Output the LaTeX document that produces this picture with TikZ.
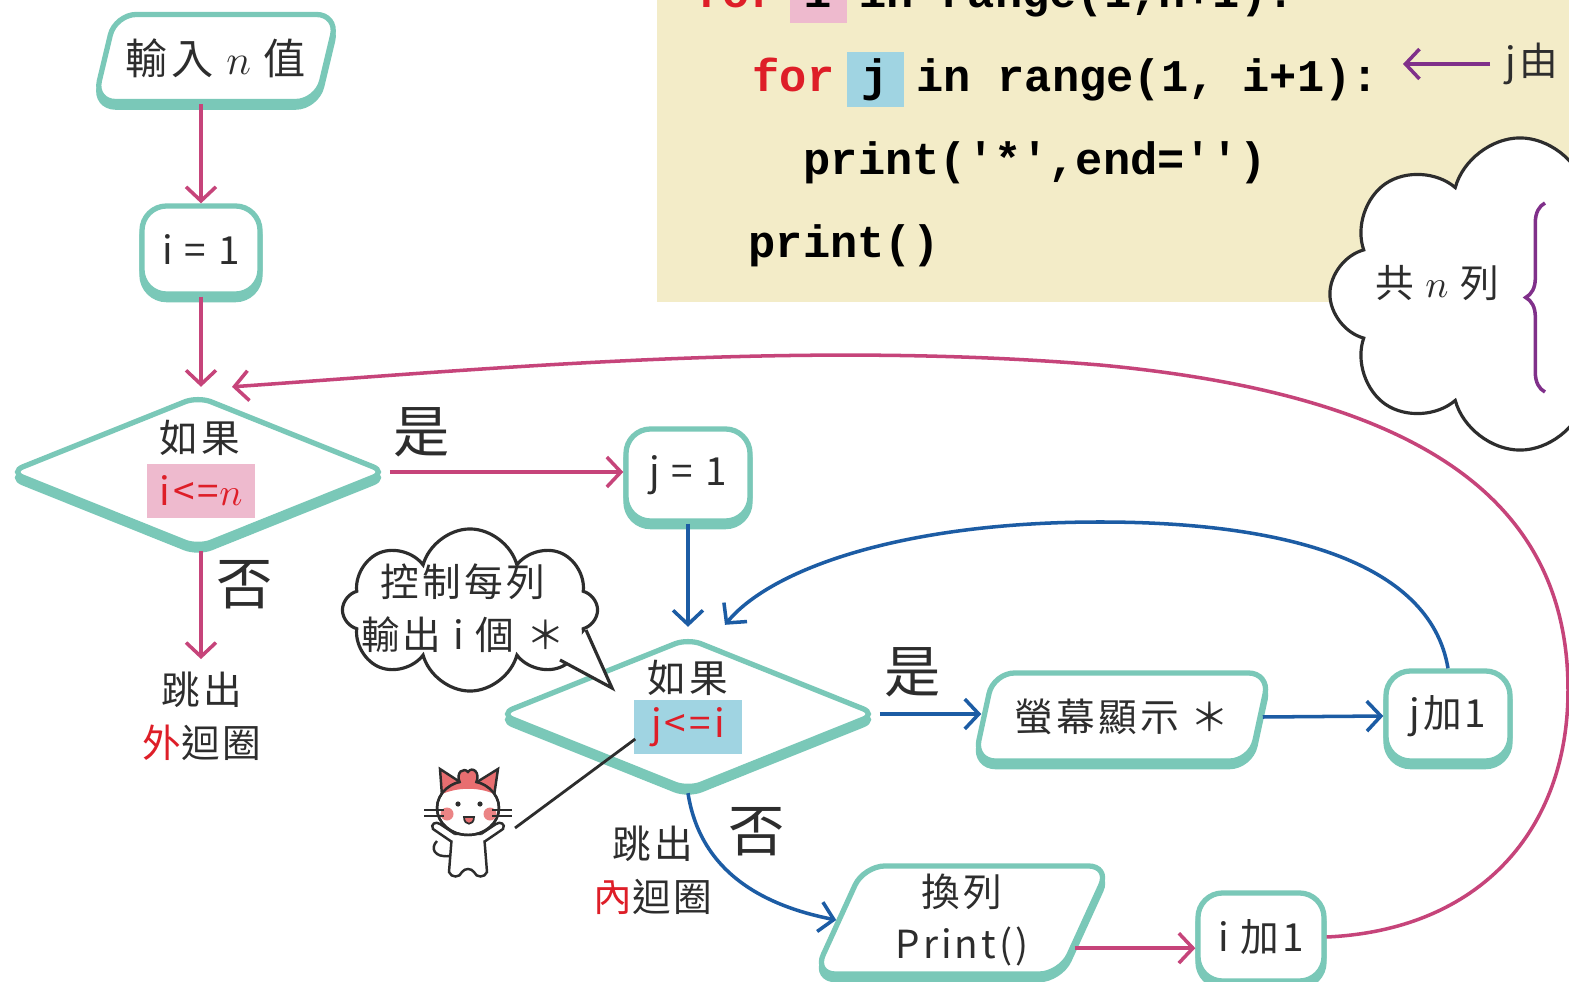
\documentclass[tikz,border=0pt]{standalone}
\usepackage{fontspec}
\setmainfont[LetterSpace=8]{Noto Sans CJK TC}
\newfontfamily\codefont{Liberation Mono}
\usetikzlibrary{arrows.meta, shapes.geometric, shapes.symbols, shadows, calc, decorations.pathreplacing}

\definecolor{flowteal}{RGB}{122,200,184}
\definecolor{loopink}{RGB}{198,68,122}
\definecolor{loopblue}{RGB}{28,92,164}
\definecolor{hlpink}{RGB}{238,186,206}
\definecolor{hlblue}{RGB}{160,212,226}
\definecolor{codebg}{RGB}{243,236,200}
\definecolor{kwred}{RGB}{222,30,40}
\definecolor{notepurple}{RGB}{128,48,138}
\definecolor{inkgray}{RGB}{45,45,45}
\definecolor{catpink}{RGB}{232,110,112}

% highlighted single character in the code lines
\newcommand\codehl[2]{{\setlength\fboxsep{0pt}\makebox[0.6em]{\colorbox{#1}{\rule[-0.33em]{0pt}{1.21em}\hspace{0.33em}#2\hspace{0.33em}}}}}
\newcommand\kw[1]{\textcolor{kwred}{#1}}
\newcommand\sq{\textquotesingle}

\tikzset{
  flowshadow/.style={copy shadow={shadow xshift=0pt, shadow yshift=-1.6pt, draw=flowteal, fill=flowteal}},
  txt/.style={inner sep=0pt, text=inkgray, font=\fontsize{11}{15}\selectfont, align=center},
  yesno/.style={inner sep=0pt, text=inkgray, font=\fontsize{16}{18}\selectfont},
  flowbox/.style={txt, rectangle, rounded corners=7pt, draw=flowteal, fill=white, line width=1.5pt, flowshadow},
  iobox/.style={txt, trapezium, trapezium left angle=62, trapezium right angle=118, trapezium stretches body,
    rounded corners=6pt, draw=flowteal, fill=white, line width=1.5pt, flowshadow},
  cond/.style={diamond, aspect=2.4, inner sep=0pt, rounded corners=4pt, draw=flowteal, fill=white,
    line width=1.5pt, minimum width=3.78cm, minimum height=1.53cm, flowshadow},
  hlnode/.style={txt, text=kwred, minimum width=1.08cm, minimum height=0.53cm},
  codeline/.style={anchor=base west, inner sep=0pt, font=\codefont\bfseries\fontsize{12.9}{14}\selectfont},
  pinkflow/.style={draw=loopink, line width=1pt, -{Straight Barb[length=4pt, width=8.5pt, line width=1pt]}},
  blueflow/.style={draw=loopblue, line width=1pt, -{Straight Barb[length=4pt, width=8.5pt, line width=1pt]}},
  notearrow/.style={draw=notepurple, line width=1pt, -{Straight Barb[length=4pt, width=8.5pt, line width=1pt]}},
  talk/.style={cloud, draw=inkgray, fill=white, line width=0.9pt},
}

\begin{document}
\begin{tikzpicture}[x=0.01cm, y=-0.01cm]
  \useasboundingbox (0,0) rectangle (1569,982);
  \clip (0,0) rectangle (1569,982);
  \fill[white] (0,0) rectangle (1569,982);

  % code listing
  \fill[codebg] (657,-10) rectangle (1580,302);
  \node[codeline] (ln1) at (695,8) {\kw{for} \codehl{hlpink}{i} in range(1,n+1):};
  \node[codeline] (ln2) at (752,92) {\kw{for} \codehl{hlblue}{j} in range(1, i+1):};
  \node[codeline] (ln3) at (803,175) {print(\sq*\sq,end=\sq\sq)};
  \node[codeline] (ln4) at (748,258) {print()};

  \coordinate (ifrom) at (1490,-18);
  \coordinate (ito) at (1403,-18);
  \draw[notearrow] (ifrom) -- (ito);
  \node[txt, anchor=west] (jnote) at (1505,64) {j由};
  \coordinate (jto) at (1403,64);
  \draw[notearrow, shorten <=0.15cm] (jnote.west) -- (jto);

  % flow chart
  \node[iobox, minimum width=2.43cm, minimum height=0.87cm, font=\fontsize{12}{15}\selectfont] (inp) at (216,58) {輸入 $n$ 值};
  \node[flowbox, minimum width=1.18cm, minimum height=0.88cm] (i1) at (201,250) {i = 1};
  \node[cond] (d1) at (198,472) {};
  \node[txt] (w1) at (200,438) {如果};
  \node[hlnode, fill=hlpink] (c1) at (201,491) {i<=$n$};
  \node[flowbox, minimum width=1.24cm, minimum height=0.92cm] (j1) at (688,475) {j = 1};
  \node[cond] (d2) at (688,714) {};
  \node[txt] (w2) at (688,678) {如果};
  \node[hlnode, fill=hlblue] (c2) at (688,727) {j<=i};
  \node[iobox, minimum width=2.95cm, minimum height=0.88cm] (scr) at (1122,717) {螢幕顯示 ＊};
  \node[flowbox, minimum width=1.24cm, minimum height=0.9cm] (jadd) at (1448,716) {j加1};
  \node[iobox, minimum width=2.95cm, minimum height=1.08cm] (prn) at (962,920) {換列\\Print()};
  \node[flowbox, minimum width=1.26cm, minimum height=0.88cm] (iadd) at (1261,937) {i 加1};
  \node[txt] (out1) at (202,716) {跳出\\\textcolor{kwred}{外}迴圈};
  \node[txt] (out2) at (653,870) {跳出\\\textcolor{kwred}{內}迴圈};

  \node[yesno] (yes1) at (422,432) {是};
  \node[yesno] (no1) at (245,585) {否};
  \node[yesno] (yes2) at (913,672) {是};
  \node[yesno] (no2) at (757,832) {否};

  \coordinate (d1in) at ($(d1.north)+(34,-6)$);
  \coordinate (d2in) at ($(d2.north)+(37,-10)$);

  \draw[pinkflow] (i1.north |- inp.south) -- (i1.north);
  \draw[pinkflow] (i1.south) -- (i1.south |- d1in);
  \draw[pinkflow, shorten >=0.12cm] (i1.south |- d1.south) -- (i1.south |- out1.north);
  \draw[pinkflow] (d1.east) -- (d1.east -| j1.west);
  \draw[blueflow] (j1.south) -- ($(d2.north)+(0,-8)$);
  \draw[blueflow] (d2.east) -- (d2.east -| scr.west);
  \draw[blueflow] (scr.east) -- (jadd.west);
  \draw[blueflow] (jadd.north) .. controls (1430,560) and (1280,522) .. (1100,522)
    .. controls (900,522) and (770,570) .. (d2in);
  \draw[blueflow] (d2.south) .. controls (700,870) and (760,905) .. (prn.west);
  \draw[pinkflow] (prn.-14) -- (prn.-14 -| iadd.west);
  \draw[pinkflow] (iadd.east) .. controls (1480,930) and (1568,830) .. (1568,690)
    .. controls (1568,500) and (1420,395) .. (1100,365)
    .. controls (800,340) and (500,368) .. (d1in);

  % note clouds
  \node[talk, cloud puffs=8, aspect=1.1, minimum width=3.8cm, minimum height=3.12cm] (rows) at (1520,294) {};
  \node[txt] (rowtxt) at (1437,283) {共 $n$ 列};
  \draw[notepurple, line width=1pt, decorate, decoration={brace, amplitude=5.5pt}] (1545,392) -- (1545,203);

  \node[talk, cloud puffs=8, aspect=1.6, minimum width=2.55cm, minimum height=1.62cm] (tip) at (470,610) {};
  \fill[white] (560,660) -- (612,688) -- (586,630) -- cycle;
  \draw[inkgray, line width=0.9pt] (560,660) -- (612,688) -- (586,630);
  \node[txt] (tiptxt) at (463,608) {控制每列\\輸出 i 個 ＊};

  % little cat
  \begin{scope}[draw=inkgray, line width=0.7pt]
    \draw (450,856) .. controls (434,858) and (430,848) .. (437,841);
    \filldraw[fill=white] (452,834) -- (449,872) .. controls (451,878) and (460,878) .. (462,872)
      .. controls (465,868) and (471,868) .. (474,872) .. controls (476,878) and (485,878) .. (487,872) -- (484,834) -- cycle;
    \filldraw[fill=white] (452,842) -- (433,829) .. controls (430,824) and (436,821) .. (440,824) -- (455,834);
    \filldraw[fill=white] (484,842) -- (503,829) .. controls (506,824) and (500,821) .. (496,824) -- (481,834);
    \filldraw[fill=catpink] (442,796) -- (440,769) -- (460,782) -- cycle;
    \filldraw[fill=catpink] (494,796) -- (498,769) -- (477,782) -- cycle;
    \filldraw[fill=white] (468,808) ellipse [x radius=31, y radius=27];
    \begin{scope}
      \clip (468,808) ellipse [x radius=31, y radius=27];
      \fill[catpink] (436,797) .. controls (455,786) and (482,786) .. (500,797) -- (500,770) -- (436,770) -- cycle;
    \end{scope}
    \draw (468,808) ellipse [x radius=31, y radius=27];
    \filldraw[fill=catpink] (460,783) .. controls (455,772) and (464,767) .. (468,772)
      .. controls (472,766) and (481,772) .. (476,783);
    \fill[catpink!85] (447,814) circle (6.5);
    \fill[catpink!85] (490,814) circle (6.5);
    \fill[inkgray] (458,804) circle (2.6);
    \fill[inkgray] (480,804) circle (2.6);
    \filldraw[fill=catpink, line width=0.5pt] (464,817) .. controls (464,826) and (474,826) .. (474,817) -- cycle;
    \draw (424,810) -- (444,810) (424,816) -- (444,816) (492,810) -- (512,810) (492,816) -- (512,816);
  \end{scope}
  \coordinate (catr) at (515,828);
  \draw[inkgray, line width=0.8pt] (catr) -- ($(c2.west)+(2,12)$);
\end{tikzpicture}
\end{document}
